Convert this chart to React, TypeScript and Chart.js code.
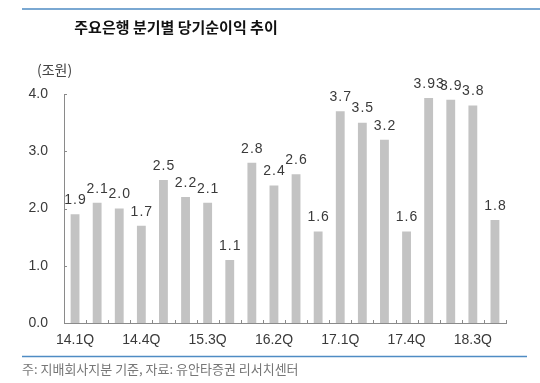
import React, { useEffect, useRef } from "react";
import { Chart, registerables } from "chart.js";

Chart.register(...registerables);

const categories = [
  "14.1Q", "14.2Q", "14.3Q", "14.4Q",
  "15.1Q", "15.2Q", "15.3Q", "15.4Q",
  "16.1Q", "16.2Q", "16.3Q", "16.4Q",
  "17.1Q", "17.2Q", "17.3Q", "17.4Q",
  "18.1Q", "18.2Q", "18.3Q", "18.4Q",
];
const netIncome = [1.9, 2.1, 2.0, 1.7, 2.5, 2.2, 2.1, 1.1, 2.8, 2.4, 2.6, 1.6, 3.7, 3.5, 3.2, 1.6, 3.93, 3.9, 3.8, 1.8];
const valueLabels = ["1.9", "2.1", "2.0", "1.7", "2.5", "2.2", "2.1", "1.1", "2.8", "2.4", "2.6", "1.6", "3.7", "3.5", "3.2", "1.6", "3.93", "3.9", "3.8", "1.8"];
const yTicks = [0, 1, 2, 3, 4];

const title = "주요은행 분기별 당기순이익 추이";
const unitLabel = "(조원)";
const footnote = "주: 지배회사지분 기준, 자료: 유안타증권 리서치센터";

const KFONT = "'Noto Sans CJK KR', 'Noto Sans', sans-serif";
const NFONT = "'Liberation Sans', Arial, sans-serif";

const decorPlugin = {
  id: "decor",
  afterDraw(chart: any) {
    const ctx = chart.ctx as CanvasRenderingContext2D;
    const x = chart.scales.x;
    const y = chart.scales.y;
    ctx.save();
    // top & bottom blue lines
    ctx.strokeStyle = "#4f8cc4";
    ctx.lineWidth = 1.5;
    ctx.beginPath();
    ctx.moveTo(22, 9);
    ctx.lineTo(540, 9);
    ctx.moveTo(22, 356.5);
    ctx.lineTo(527, 356.5);
    ctx.stroke();

    // title
    ctx.fillStyle = "#111";
    ctx.font = `bold 15px ${KFONT}`;
    ctx.textAlign = "center";
    ctx.textBaseline = "middle";
    ctx.fillText(title, 176, 27);

    // unit
    ctx.fillStyle = "#444";
    ctx.font = `14px ${KFONT}`;
    ctx.textAlign = "left";
    ctx.fillText(unitLabel, 37, 70);

    // footnote
    ctx.fillStyle = "#777";
    ctx.font = `13px ${KFONT}`;
    ctx.fillText(footnote, 22, 369);

    // tick marks
    ctx.strokeStyle = "#8a8a8a";
    ctx.lineWidth = 1;
    ctx.beginPath();
    for (const v of yTicks) {
      const py = Math.round(y.getPixelForValue(v)) + 0.5;
      ctx.moveTo(x.left, py);
      ctx.lineTo(x.left + 3, py);
    }
    const n = categories.length;
    const step = (x.right - x.left) / n;
    for (let i = 0; i <= n; i++) {
      const px = Math.round(x.left + i * step) + 0.5;
      ctx.moveTo(px, y.bottom);
      ctx.lineTo(px, y.bottom - 3);
    }
    ctx.stroke();

    // value labels
    const meta = chart.getDatasetMeta(0);
    ctx.fillStyle = "#3a3a3a";
    ctx.font = `14px ${NFONT}`;
    (ctx as any).letterSpacing = "1px";
    ctx.textAlign = "center";
    ctx.textBaseline = "bottom";
    meta.data.forEach((bar: any, i: number) => {
      ctx.fillText(valueLabels[i], bar.x + 0.5, bar.y - 7);
    });
    ctx.restore();
  },
};

export default function App() {
  const ref = useRef<HTMLCanvasElement>(null);
  useEffect(() => {
    document.body.style.margin = "0";
    const chart = new Chart(ref.current!, {
      type: "bar",
      data: {
        labels: categories,
        datasets: [
          {
            data: netIncome,
            backgroundColor: "#c3c3c3",
            categoryPercentage: 1,
            barPercentage: 0.4,
          },
        ],
      },
      options: {
        responsive: false,
        animation: false,
        layout: { padding: { left: 0, right: 34, top: 94, bottom: 0 } },
        plugins: {
          legend: { display: false },
          tooltip: { enabled: false },
          title: { display: false },
        },
        scales: {
          x: {
            grid: { display: false, drawTicks: false },
            border: { display: true, color: "#8a8a8a", width: 1 },
            afterFit: (s: any) => { s.height = 60; },
            ticks: {
              autoSkip: false,
              maxRotation: 0,
              padding: 9,
              color: "#3a3a3a",
              font: { family: NFONT, size: 14 },
              callback: (_v: any, i: number) => (i % 3 === 0 ? categories[i] : ""),
            },
          },
          y: {
            min: 0,
            max: 4,
            grid: { display: false, drawTicks: false },
            border: { display: true, color: "#8a8a8a", width: 1 },
            afterFit: (s: any) => { s.width = 64; },
            afterBuildTicks: (s: any) => { s.ticks = yTicks.map((v) => ({ value: v })); },
            ticks: {
              padding: 16,
              color: "#3a3a3a",
              font: { family: NFONT, size: 14 },
              callback: (v: any) => Number(v).toFixed(1),
            },
          },
        },
      },
      plugins: [decorPlugin],
    });
    return () => chart.destroy();
  }, []);
  return <canvas ref={ref} width={540} height={383} style={{ display: "block" }} />;
}
